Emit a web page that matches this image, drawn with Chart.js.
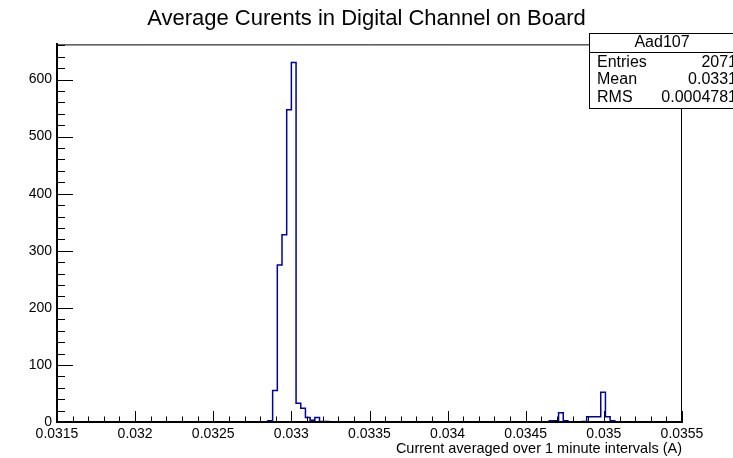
<!DOCTYPE html>
<html>
<head>
<meta charset="utf-8">
<script src="https://cdn.jsdelivr.net/npm/chart.js@4.4.1/dist/chart.umd.min.js"></script>
<style>
  html, body { margin: 0; padding: 0; background: #fff; overflow: hidden; }
  #wrap { width: 733px; height: 458px; position: relative; }
</style>
</head>
<body>
<div id="wrap"><canvas id="c" width="733" height="458"></canvas></div>
<script>
// Histogram definition
const histName = 'Aad107';
const chartTitle = 'Average Curents in Digital Channel on Board';
const xAxisTitle = 'Current averaged over 1 minute intervals (A)';
const xMin = 0.0315;
const xMax = 0.0355;
const binWidth = 0.00003;
const nBins = 133;

// Non-empty bins (bin index from xMin) and their counts
const filledBins = [45, 46, 47, 48, 49, 50, 51, 52, 53, 54, 55, 56, 57,
                    105, 106, 107, 108,
                    112, 113, 114, 115, 116, 117, 118];
const binCounts  = [2, 55, 275, 328, 547, 630, 33, 24, 8, 3, 8, 1, 1,
                    2, 2, 16, 2,
                    1, 9, 9, 9, 52, 9, 2];

// Statistics box
const statsLabels = ['Entries', 'Mean', 'RMS'];
const statsValues = ['2071', '0.0331', '0.0004781'];

// Axis ranges and tick spacing
const yMax = 661.5;
const xMajorStep = 0.0005, xMinorStep = 0.0001;
const yMajorStep = 100, yMinorStep = 20;

const FONT = '"Liberation Sans", Arial, Helvetica, sans-serif';

// Build the per-bin counts and the step outline points (left edge of each bin)
const counts = new Array(nBins).fill(0);
filledBins.forEach((b, i) => { counts[b] = binCounts[i]; });
const points = counts.map((v, k) => ({ x: xMin + k * binWidth, y: v }));
points.push({ x: xMin + nBins * binWidth, y: 0 });

const fmt = v => String(parseFloat(Number(v).toFixed(6)));

// Inward tick marks, top/right frame lines and the statistics box
const frameTicks = {
  id: 'frameTicks',
  afterDatasetsDraw(chart) {
    const { ctx, chartArea: a, scales: { x, y } } = chart;
    ctx.save();
    ctx.strokeStyle = '#000';
    ctx.lineWidth = 1;
    ctx.beginPath();
    ctx.moveTo(a.left, a.top + 0.5); ctx.lineTo(a.right, a.top + 0.5);
    ctx.moveTo(a.right - 0.5, a.top); ctx.lineTo(a.right - 0.5, a.bottom);
    const nx = Math.round((xMax - xMin) / xMinorStep);
    const perMajorX = Math.round(xMajorStep / xMinorStep);
    for (let i = 0; i <= nx; i++) {
      const px = Math.round(x.getPixelForValue(xMin + i * xMinorStep)) + 0.5;
      const len = (i % perMajorX === 0) ? 11 : 5.5;
      ctx.moveTo(px, a.bottom); ctx.lineTo(px, a.bottom - len);
    }
    const ny = Math.floor(yMax / yMinorStep);
    const perMajorY = Math.round(yMajorStep / yMinorStep);
    for (let j = 0; j <= ny; j++) {
      const py = Math.round(y.getPixelForValue(j * yMinorStep)) + 0.5;
      const len = (j % perMajorY === 0) ? 16 : 8;
      ctx.moveTo(a.left, py); ctx.lineTo(a.left + len, py);
    }
    ctx.stroke();
    ctx.restore();
  },
  afterDraw(chart) {
    const { ctx } = chart;
    const bx = 589, by = 33, bw = 144, bh = 75, headH = 19;
    ctx.save();
    ctx.fillStyle = '#fff';
    ctx.fillRect(bx, by, bw + 10, bh);
    ctx.strokeStyle = '#000';
    ctx.lineWidth = 1;
    ctx.strokeRect(bx + 0.5, by + 0.5, bw + 10, bh);
    ctx.beginPath();
    ctx.moveTo(bx, by + headH + 0.5); ctx.lineTo(bx + bw + 10, by + headH + 0.5);
    ctx.stroke();
    ctx.fillStyle = '#000';
    ctx.font = '16px ' + FONT;
    ctx.textBaseline = 'middle';
    ctx.textAlign = 'center';
    ctx.fillText(histName, bx + bw / 2 + 1, by + 10);
    const rowY = [63, 80, 98];
    statsLabels.forEach((lab, i) => {
      ctx.textAlign = 'left';
      ctx.fillText(lab, bx + 8, rowY[i]);
      ctx.textAlign = 'right';
      ctx.fillText(statsValues[i], 737, rowY[i]);
    });
    ctx.restore();
  }
};

new Chart(document.getElementById('c'), {
  type: 'line',
  data: {
    datasets: [{
      label: histName,
      data: points,
      stepped: true,
      borderColor: '#000099',
      borderWidth: 1.5,
      pointRadius: 0,
      fill: false,
      tension: 0
    }]
  },
  options: {
    responsive: false,
    animation: false,
    devicePixelRatio: 1,
    layout: { padding: 0 },
    plugins: {
      legend: { display: false },
      tooltip: { enabled: false },
      title: {
        display: true,
        text: chartTitle,
        color: '#000',
        font: { family: FONT, size: 22, weight: 'normal' },
        padding: { top: 6, bottom: 12 }
      }
    },
    scales: {
      x: {
        type: 'linear',
        min: xMin,
        max: xMax,
        grid: { display: false, drawTicks: false },
        border: { display: true, color: '#000', width: 2, z: 1 },
        ticks: {
          stepSize: xMajorStep,
          autoSkip: false,
          maxRotation: 0,
          includeBounds: false,
          padding: 4,
          color: '#000',
          font: { family: FONT, size: 14 },
          callback: v => fmt(v)
        },
        title: {
          display: true,
          text: xAxisTitle,
          align: 'end',
          color: '#000',
          font: { family: FONT, size: 14.5 },
          padding: { top: 0, bottom: 0 }
        },
        afterFit: s => { s.height = 36; }
      },
      y: {
        type: 'linear',
        min: 0,
        max: yMax,
        grid: { display: false, drawTicks: false },
        border: { display: true, color: '#000', width: 2, z: 1 },
        ticks: {
          stepSize: yMajorStep,
          includeBounds: false,
          padding: 5,
          color: '#000',
          font: { family: FONT, size: 14 },
          callback: v => fmt(v)
        },
        afterFit: s => { s.width = 57; }
      },
      // empty right-hand margin so the title stays centred on the page
      yRight: {
        type: 'linear',
        position: 'right',
        display: true,
        min: 0,
        max: yMax,
        grid: { display: false, drawTicks: false },
        border: { display: false },
        ticks: { display: false },
        afterFit: s => { s.width = 51; }
      }
    }
  },
  plugins: [frameTicks]
});
</script>
</body>
</html>
